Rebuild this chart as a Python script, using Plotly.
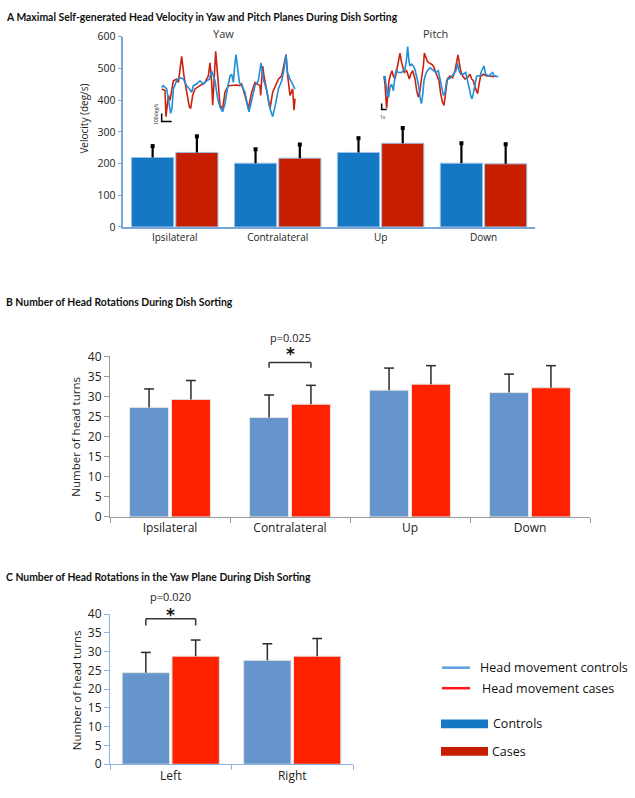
import plotly.graph_objects as go

# ---------------- data ----------------
# Panel A: maximal head velocity (deg/s)
a_categories = ["Ipsilateral", "Contralateral", "Up", "Down"]
a_controls = [219, 201, 235, 201]
a_controls_err = [36, 44, 45, 63]
a_cases = [235, 217, 264, 199]
a_cases_err = [51, 43, 48, 62]
a_ticks = [0, 100, 200, 300, 400, 500, 600]

# Inset traces (time s, velocity deg/s)
yaw_blue_t = [0, 0.17, 0.5, 0.67, 0.9, 1.03, 1.17, 1.5, 1.83, 2.17, 2.5, 2.77, 3.0, 3.17, 3.5, 3.83, 4.17, 4.5, 4.77, 5.0,
              5.17, 5.33, 5.6, 5.83, 6.1, 6.33, 6.57, 6.83, 7.0, 7.17, 7.33, 7.43, 7.57, 7.77, 8.0, 8.33, 8.57, 8.73, 9.0, 9.33,
              9.67, 9.93, 10.17, 10.5, 10.83, 11.1, 11.33, 11.67, 12.0, 12.23, 12.43, 12.57, 12.83, 13.17, 13.33]
yaw_blue_v = [-20, 0, -40, -160, -340, -280, -40, 60, 100, 80, 0, -40, -80, 0, 20, 60, 20, 60, 80, 180,
              120, 60, -160, -260, -320, -220, -40, 120, 140, 40, 280, 380, 240, 40, 0, -80, -240, -320, -180, 0,
              60, 280, 80, -60, -280, -380, -260, -40, 60, 200, 380, 160, 80, 0, -40]
yaw_red_t = [0, 0.33, 0.43, 0.67, 0.83, 1.17, 1.5, 1.67, 2.0, 2.23, 2.5, 2.77, 2.9, 3.1, 3.33, 3.83, 4.33, 4.67, 4.83, 5.0,
             5.1, 5.23, 5.4, 5.6, 5.83, 6.1, 6.33, 6.67, 7.5, 7.83, 8.0, 8.33, 8.67, 9.0, 9.33, 9.83, 9.9, 10.0, 10.1, 10.23,
             10.83, 11.1, 11.67, 12.0, 12.43, 12.6, 12.83, 13.1, 13.23, 13.33]
yaw_red_v = [-40, -60, -380, -120, -180, 60, 80, 40, 360, 120, -80, -260, -280, -120, -40, 0, 40, 120, 280, 40,
             -240, 40, 420, 120, -240, -280, -80, 0, 8, 0, 20, -120, -280, -80, 40, 0, -120, 80, 240, 120,
             -280, -80, 80, 120, 380, 120, -120, -40, -300, -160]

pitch_blue_t = [0, 0.2, 0.4, 0.67, 0.93, 1.2, 1.53, 1.87, 2.2, 2.4, 2.87, 3.53, 3.87, 4.2, 4.53, 4.73, 5.0, 5.2, 5.53, 5.87,
                6.2, 6.53, 6.87, 7.2, 7.47, 7.73, 8.0, 8.33, 8.67, 9.2, 9.67, 10.0, 10.4, 10.87, 11.2, 11.53, 11.87, 12.2, 12.53, 12.87,
                13.33, 13.87, 14.4, 14.67, 15.0, 15.33, 15.87, 16.33, 16.67, 17.0, 17.33, 17.6, 17.87, 18.2, 18.53, 19.2, 19.53, 20.0, 20.33, 20.87,
                21.4, 21.73, 22.0, 22.53, 22.87]
pitch_blue_v = [-80, -30, -170, -360, -390, -220, -170, -280, -30, 60, 30, 30, 60, 80, 280, 470, 220, 140, 170, 140,
                80, -30, -170, -390, -500, -360, -110, 0, 60, 110, 80, 60, 30, 60, -80, -280, -360, -310, -110, -80,
                -60, 0, 60, 190, 60, 0, 0, 30, -80, -220, -360, -420, -330, -140, -30, -30, 60, 140, 0, -30,
                0, 30, -30, -40, -40]
pitch_red_t = [0, 0.2, 0.4, 0.53, 0.73, 1.0, 1.33, 1.6, 1.87, 2.2, 2.53, 2.87, 3.2, 3.47, 3.73, 4.07, 4.53, 4.87, 5.07, 5.33,
               5.73, 6.2, 6.53, 6.87, 7.2, 7.53, 7.87, 8.07, 8.33, 8.67, 9.07, 9.53, 9.87, 10.2, 10.53, 11.0, 11.33, 11.67, 12.0, 12.33,
               12.67, 13.2, 13.73, 14.2, 14.53, 14.8, 15.07, 15.33, 15.73, 16.2, 16.67, 17.2, 17.53, 17.87, 18.2, 18.53, 18.73, 19.0, 19.33, 19.87,
               20.53, 21.2, 21.87, 22.4]
pitch_red_v = [-30, -170, -440, -580, -360, -110, 0, 60, -30, -80, 60, 190, 360, 220, 110, 30, 60, -30, -80, 0,
               60, -80, -280, -390, -280, -60, 140, 360, 280, 220, 190, 170, 140, 60, -30, -110, -330, -470, -530, -330,
               -80, -30, -60, 60, 190, 330, 190, 60, -30, -80, -60, 0, -80, -110, -220, -310, -330, -170, -30, 0,
               -30, -30, -40, -30]
scale_bar_time = 1      # s
scale_bar_vel = 100     # deg/s

# Panel B: number of head rotations
b_categories = ["Ipsilateral", "Contralateral", "Up", "Down"]
b_controls = [27.3, 24.8, 31.6, 31.0]
b_controls_err = [4.6, 5.6, 5.5, 4.6]
b_cases = [29.3, 28.1, 33.1, 32.2]
b_cases_err = [4.7, 4.7, 4.6, 5.5]
b_ticks = [0, 5, 10, 15, 20, 25, 30, 35, 40]

# Panel C: head rotations in yaw plane
c_categories = ["Left", "Right"]
c_controls = [24.4, 27.7]
c_controls_err = [5.4, 4.4]
c_cases = [28.8, 28.8]
c_cases_err = [4.3, 4.7]
c_ticks = [0, 5, 10, 15, 20, 25, 30, 35, 40]

b_sig_category = "Contralateral"
b_sig_label = "p=0.025"
c_sig_category = "Left"
c_sig_label = "p=0.020"

# ---------------- styling helpers ----------------
W, H = 635, 798
def px(x):
    return x / W
def py(y):
    return 1 - y / H

FONT = "Open Sans"
A_BLUE, A_RED = "#1578c4", "#c81e00"
B_BLUE, B_RED = "#6595cb", "#ff2200"
TR_BLUE, TR_RED = "#1e8fd8", "#cc2010"

fig = go.Figure()

def bars(cats, vals, xa, ya, width, offset, color, edge):
    fig.add_trace(go.Bar(x=cats, y=vals, xaxis=xa, yaxis=ya, width=width, offset=offset,
                         marker=dict(color=color, line=dict(color=edge, width=1)), showlegend=False))

def errbars(cats, vals, errs, xa, ya, width, offset, color, thick, cap_symbol, cap_size, cap_line):
    xs, ys, cx, cy = [], [], [], []
    for i, _ in enumerate(cats):
        c = i + offset + width / 2
        xs += [c, c, None]
        ys += [vals[i], vals[i] + errs[i], None]
        cx.append(c)
        cy.append(vals[i] + errs[i])
    fig.add_trace(go.Scatter(x=xs, y=ys, xaxis=xa, yaxis=ya, mode="lines",
                             line=dict(color=color, width=thick), showlegend=False, cliponaxis=False))
    mk = dict(symbol=cap_symbol, size=cap_size, color=color, line=dict(color=color, width=cap_line))
    fig.add_trace(go.Scatter(x=cx, y=cy, xaxis=xa, yaxis=ya, mode="markers", marker=mk,
                             showlegend=False, cliponaxis=False))

A_W, A_OB, A_OR = 0.41, -0.42, 0.01
B_W, B_OB, B_OR = 0.325, -0.337, 0.012
C_W, C_OB, C_OR = 0.39, -0.40, 0.01

# Panel A
bars(a_categories, a_controls, "x", "y", A_W, A_OB, A_BLUE, "#9cc2e8")
bars(a_categories, a_cases, "x", "y", A_W, A_OR, A_RED, "#9cc2e8")
errbars(a_categories, a_controls, a_controls_err, "x6", "y", A_W, A_OB, "black", 2.2, "square", 4, 0)
errbars(a_categories, a_cases, a_cases_err, "x6", "y", A_W, A_OR, "black", 2.2, "square", 4, 0)

# Panel B
bars(b_categories, b_controls, "x2", "y2", B_W, B_OB, B_BLUE, "#e4e4e4")
bars(b_categories, b_cases, "x2", "y2", B_W, B_OR, B_RED, "#e4e4e4")
errbars(b_categories, b_controls, b_controls_err, "x7", "y2", B_W, B_OB, "#2a2a2a", 1.5, "line-ew", 7, 1.5)
errbars(b_categories, b_cases, b_cases_err, "x7", "y2", B_W, B_OR, "#2a2a2a", 1.5, "line-ew", 7, 1.5)

# Panel C
bars(c_categories, c_controls, "x3", "y3", C_W, C_OB, B_BLUE, "#e4e4e4")
bars(c_categories, c_cases, "x3", "y3", C_W, C_OR, B_RED, "#e4e4e4")
errbars(c_categories, c_controls, c_controls_err, "x8", "y3", C_W, C_OB, "#2a2a2a", 1.5, "line-ew", 7, 1.5)
errbars(c_categories, c_cases, c_cases_err, "x8", "y3", C_W, C_OR, "#2a2a2a", 1.5, "line-ew", 7, 1.5)

# Insets
fig.add_trace(go.Scatter(x=yaw_red_t, y=yaw_red_v, xaxis="x4", yaxis="y4", mode="lines",
                         line=dict(color=TR_RED, width=1.6), showlegend=False))
fig.add_trace(go.Scatter(x=yaw_blue_t, y=yaw_blue_v, xaxis="x4", yaxis="y4", mode="lines",
                         line=dict(color=TR_BLUE, width=1.6), showlegend=False))
fig.add_trace(go.Scatter(x=pitch_red_t, y=pitch_red_v, xaxis="x5", yaxis="y5", mode="lines",
                         line=dict(color=TR_RED, width=1.6), showlegend=False))
fig.add_trace(go.Scatter(x=pitch_blue_t, y=pitch_blue_v, xaxis="x5", yaxis="y5", mode="lines",
                         line=dict(color=TR_BLUE, width=1.6), showlegend=False))

# scale bars (L shapes) below each inset
yaw_t0 = min(yaw_blue_t + yaw_red_t)
yaw_v0 = min(yaw_blue_v + yaw_red_v) - 60
pit_t0 = min(pitch_blue_t + pitch_red_t) - 0.47
pit_v0 = min(pitch_blue_v + pitch_red_v) - 20
for (t0, v0, xa, ya) in [(yaw_t0, yaw_v0, "x4", "y4"), (pit_t0, pit_v0, "x5", "y5")]:
    fig.add_trace(go.Scatter(x=[t0, t0, t0 + scale_bar_time], y=[v0 + scale_bar_vel, v0, v0],
                             xaxis=xa, yaxis=ya, mode="lines", cliponaxis=False,
                             line=dict(color="black", width=1.5), showlegend=False))

# ---------------- axes ----------------
def tickfont(size):
    return dict(family=FONT, size=size, color="#222")

layout = dict(
    width=W, height=H, autosize=False,
    margin=dict(l=0, r=0, t=0, b=0),
    paper_bgcolor="white", plot_bgcolor="rgba(0,0,0,0)",
    barmode="overlay", showlegend=False,
    font=dict(family=FONT, color="#222"),
)

AX_A = "#7aa6d8"
AX_B = "#9a9a9a"
AX_C = "#8fb3e0"

layout["xaxis"] = dict(domain=[px(123.3), px(535)], anchor="y", type="category", range=[-0.5, 3.5],
                       showline=True, linecolor=AX_A, linewidth=1.5, ticks="", showgrid=False,
                       tickfont=tickfont(10))
layout["yaxis"] = dict(domain=[py(222.7), py(28.3)], anchor="x", range=[0, 600], tickvals=a_ticks,
                       showline=True, linecolor=AX_A, linewidth=1.5, ticks="outside", ticklen=4,
                       tickcolor=AX_A, showgrid=False, zeroline=False, tickfont=tickfont(10.5))

layout["xaxis2"] = dict(domain=[px(110), px(590)], anchor="y2", type="category", range=[-0.5, 3.5],
                        showline=True, linecolor=AX_B, linewidth=1, ticks="outside", tickson="boundaries",
                        ticklen=5, tickcolor=AX_B, showgrid=False, tickfont=tickfont(12))
layout["yaxis2"] = dict(domain=[py(519), py(355)], anchor="x2", range=[0, 40], tickvals=b_ticks,
                        showline=True, linecolor=AX_B, linewidth=1, ticks="outside", ticklen=5,
                        tickcolor=AX_B, showgrid=False, zeroline=False, tickfont=tickfont(12))

layout["xaxis3"] = dict(domain=[px(110), px(353)], anchor="y3", type="category", range=[-0.5, 1.5],
                        showline=True, linecolor=AX_C, linewidth=1.2, ticks="outside", tickson="boundaries",
                        ticklen=5, tickcolor=AX_C, showgrid=False, tickfont=tickfont(12))
layout["yaxis3"] = dict(domain=[py(771.7), py(618.3)], anchor="x3", range=[0, 40], tickvals=c_ticks,
                        showline=True, linecolor=AX_C, linewidth=1.2, ticks="outside", ticklen=5,
                        tickcolor=AX_C, showgrid=False, zeroline=False, tickfont=tickfont(12))

layout["xaxis4"] = dict(domain=[px(155), px(300)], anchor="y4", range=[-0.667, 13.83], visible=False)
layout["yaxis4"] = dict(domain=[py(118), py(40)], anchor="x4", range=[-476, 460], visible=False)
layout["xaxis5"] = dict(domain=[px(378), px(505)], anchor="y5", range=[-1.2, 24.2], visible=False)
layout["yaxis5"] = dict(domain=[py(112), py(35)], anchor="x5", range=[-756, 528], visible=False)

# numeric overlay axes used to place error bars at the bar centres
layout["xaxis6"] = dict(overlaying="x", anchor="y", range=[-0.5, len(a_categories) - 0.5], visible=False)
layout["xaxis7"] = dict(overlaying="x2", anchor="y2", range=[-0.5, len(b_categories) - 0.5], visible=False)
layout["xaxis8"] = dict(overlaying="x3", anchor="y3", range=[-0.5, len(c_categories) - 0.5], visible=False)

fig.update_layout(**layout)

# ---------------- annotations ----------------
ann = []
TITLE_FONT = dict(family="Lato", size=10.4, color="#111")
def title(text, y):
    ann.append(dict(text="<b>" + text + "</b>", x=px(4), y=py(y), xref="paper", yref="paper",
                    xanchor="left", yanchor="middle", showarrow=False, font=TITLE_FONT))

title("A Maximal Self-generated Head Velocity in Yaw and Pitch Planes During Dish Sorting", 8)
title("B Number of Head Rotations During Dish Sorting", 299)
title("C Number of Head Rotations in the Yaw Plane During Dish Sorting", 580)

def ytitle(text, x, y, size):
    ann.append(dict(text=text, x=px(x), y=py(y), xref="paper", yref="paper", textangle=-90,
                    xanchor="center", yanchor="middle", showarrow=False,
                    font=dict(family=FONT, size=size, color="#222")))

ytitle("Velocity (deg/s)", 84, 112, 10)
ytitle("Number of head turns", 76, 437, 11.5)
ytitle("Number of head turns", 76, 696, 11.5)

for txt, x in [("Yaw", 223), ("Pitch", 435)]:
    ann.append(dict(text=txt, x=px(x), y=py(25), xref="paper", yref="paper", showarrow=False,
                    xanchor="center", yanchor="middle", font=dict(family=FONT, size=11, color="#333")))

# scale bar labels
for (t, v, xa, ya, txt, ang) in [(-0.5, -350, "x4", "y4", "100deg/s", -90), (0.35, -515, "x4", "y4", "1s", 0),
                                 (-2.1, -584, "x5", "y5", "100deg/s", -90), (-0.3, -722, "x5", "y5", "1s", 0)]:
    ann.append(dict(text=txt, x=t, y=v, xref=xa, yref=ya, showarrow=False, textangle=ang,
                    font=dict(family=FONT, size=5, color="#222")))

# significance brackets
shapes = []
def bracket(cats, cat, xa, ya, ymax, off_blue, off_red, width, top, leg, label, star_y, label_y):
    i = cats.index(cat)
    x0 = i + off_blue + width / 2
    x1 = i + off_red + width / 2
    ln = dict(color="#333", width=1.5)
    shapes.append(dict(type="line", xref=xa, yref=ya, x0=x0, x1=x1, y0=top, y1=top, line=ln))
    shapes.append(dict(type="line", xref=xa, yref=ya, x0=x0, x1=x0, y0=top, y1=leg, line=ln))
    shapes.append(dict(type="line", xref=xa, yref=ya, x0=x1, x1=x1, y0=top, y1=leg, line=ln))
    xm = (x0 + x1) / 2
    ann.append(dict(text="<b>*</b>", x=xm, y=star_y / ymax, xref=xa, yref=ya + " domain", showarrow=False,
                    yanchor="middle", font=dict(family="DejaVu Sans", size=17, color="#111")))
    ann.append(dict(text=label, x=xm, y=label_y / ymax, xref=xa, yref=ya + " domain", showarrow=False,
                    yanchor="middle", font=dict(family=FONT, size=11, color="#222")))

bracket(b_categories, b_sig_category, "x7", "y2", 40, B_OB, B_OR, B_W, 38.5, 37.2, b_sig_label, 40.6, 44.8)
bracket(c_categories, c_sig_category, "x8", "y3", 40, C_OB, C_OR, C_W, 38.8, 37.0, c_sig_label, 39.8, 44.6)

# legend (drawn manually)
LEG_FONT = dict(family=FONT, size=12.5, color="#111")
legend_lines = [("Head movement controls", "#5b9ee2", 673, 478), ("Head movement cases", "#ff1a1a", 694, 480)]
for txt, col, y, tx in legend_lines:
    shapes.append(dict(type="line", xref="paper", yref="paper", x0=px(442), x1=px(470), y0=py(y), y1=py(y),
                       line=dict(color=col, width=2.5)))
    ann.append(dict(text=txt, x=px(tx), y=py(y), xref="paper", yref="paper", xanchor="left",
                    yanchor="middle", showarrow=False, font=LEG_FONT))
legend_boxes = [("Controls", A_BLUE, 730.5, 491), ("Cases", A_RED, 758.5, 490)]
for txt, col, y, tx in legend_boxes:
    shapes.append(dict(type="rect", xref="paper", yref="paper", x0=px(441), x1=px(488),
                       y0=py(y + 4.5), y1=py(y - 4.5), fillcolor=col, line=dict(width=0)))
    ann.append(dict(text=txt, x=px(tx), y=py(y), xref="paper", yref="paper", xanchor="left",
                    yanchor="middle", showarrow=False, font=LEG_FONT))

fig.update_layout(annotations=ann, shapes=shapes)
fig.write_html("out.html", config={"displayModeBar": False},
               post_script="document.body.style.margin='0px';")
